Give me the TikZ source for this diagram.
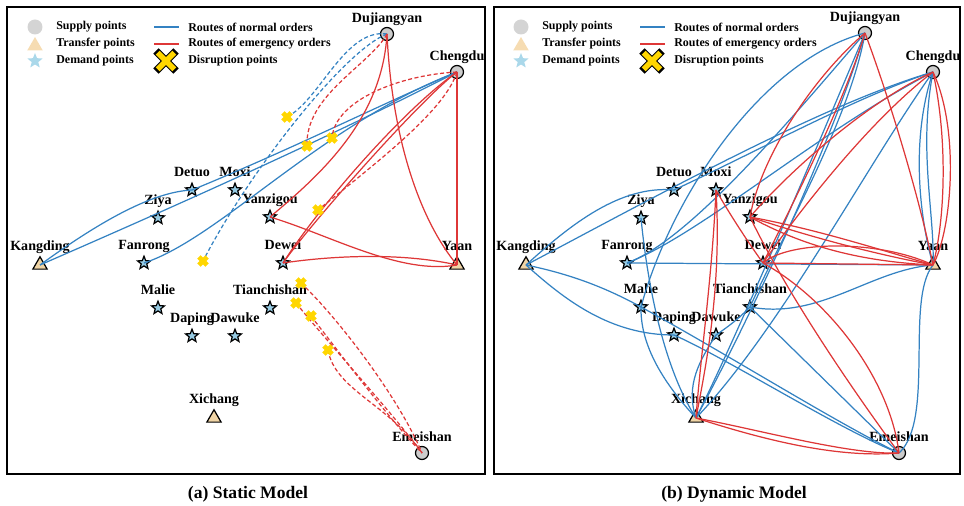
\documentclass[tikz,border=0pt]{standalone}
\usepackage{fontspec}
\setmainfont{Liberation Serif}
\usetikzlibrary{shapes.geometric,shapes.misc}

\definecolor{routeblue}{RGB}{52,130,194}
\definecolor{routered}{RGB}{222,55,55}
\definecolor{supplygray}{RGB}{204,204,204}
\definecolor{transfertan}{RGB}{240,212,165}
\definecolor{demandblue}{RGB}{150,202,226}
\definecolor{keygray}{RGB}{212,212,212}
\definecolor{keytan}{RGB}{246,220,178}
\definecolor{keyblue}{RGB}{170,216,234}
\definecolor{disruptyellow}{RGB}{255,214,0}

\tikzset{
  supply/.style={circle,draw=black,fill=supplygray,line width=0.7pt,minimum size=0.26cm,inner sep=0},
  transfer/.style={regular polygon,regular polygon sides=3,draw=black,fill=transfertan,line width=0.7pt,minimum size=0.33cm,inner sep=0},
  demand/.style={star,star points=5,star point ratio=2.3,draw=black,fill=demandblue,line width=0.7pt,minimum size=0.27cm,inner sep=0},
  disrupt/.style={cross out,draw=disruptyellow,line width=2.7pt,minimum size=0.07cm,inner sep=0},
  placename/.style={font=\bfseries\fontsize{8}{9}\selectfont,inner sep=0,text depth=0pt,label distance=2.5pt},
  place/.style={label={[placename]90:#1}},
  normal/.style={routeblue,line width=0.7pt},
  emergency/.style={routered,line width=0.7pt},
  cut/.style={dash pattern=on 2.3pt off 1.4pt},
  keytext/.style={font=\bfseries\fontsize{6.8}{7.5}\selectfont,anchor=west,inner sep=0},
}

\begin{document}
\begin{tikzpicture}[x=0.02cm,y=-0.02cm]
\useasboundingbox (0,0) rectangle (964,506);

% frames and captions
\draw[line width=0.9pt] (7,7) rectangle (485,474);
\draw[line width=0.9pt] (494,7) rectangle (960,474);
\node[font=\bfseries\fontsize{10}{12}\selectfont] (capa) at (248,494) {(a) Static Model};
\node[font=\bfseries\fontsize{10}{12}\selectfont] (capb) at (734,494) {(b) Dynamic Model};

% legend, once per panel
\foreach \dx in {0,486} {
  \begin{scope}[shift={(\dx,0)}]
    \node[circle,fill=keygray,minimum size=0.3cm,inner sep=0] at (35,27) {};
    \node[regular polygon,regular polygon sides=3,fill=keytan,minimum size=0.36cm,inner sep=0] at (35,46) {};
    \node[star,star points=5,star point ratio=2.3,fill=keyblue,minimum size=0.32cm,inner sep=0] at (35,61) {};
    \node[keytext] at (56,27) {Supply points};
    \node[keytext] at (56,44) {Transfer points};
    \node[keytext] at (56,61) {Demand points};
    \draw[routeblue,line width=1.2pt] (154,27) -- (179,27);
    \draw[routered,line width=1.2pt] (154,44) -- (179,44);
    \node[cross out,draw=black,line width=4.3pt,minimum size=0.25cm,inner sep=0] at (166,61) {};
    \node[cross out,draw=disruptyellow,line width=3.2pt,minimum size=0.22cm,inner sep=0] at (166,61) {};
    \node[keytext] at (188,27) {Routes of normal orders};
    \node[keytext] at (188,44) {Routes of emergency orders};
    \node[keytext] at (188,61) {Disruption points};
  \end{scope}
}

% (a) static model: places
\node[supply,place=Dujiangyan] (dja) at (387,34) {};
\node[supply,place=Chengdu] (cda) at (457,72) {};
\node[transfer,place=Kangding] (kda) at (40,265) {};
\node[demand,place=Fanrong] (fra) at (144,263) {};
\node[demand,place=Dewei] (dwa) at (283,263) {};
\node[transfer,place=Yaan] (yaa) at (457,265) {};
\node[demand,place=Detuo] (dta) at (192,190) {};
\node[demand,place=Moxi] (mxa) at (235,190) {};
\node[demand,place=Ziya] (zya) at (158,218) {};
\node[demand,place=Yanzigou] (yza) at (270,217) {};
\node[demand,place=Malie] (mla) at (158,308) {};
\node[demand,place=Tianchishan] (tca) at (270,308) {};
\node[demand,place=Daping] (dpa) at (192,336) {};
\node[demand,place=Dawuke] (dka) at (235,336) {};
\node[transfer,place=Xichang] (xca) at (214,418) {};
\node[supply,place=Emeishan] (ema) at (422,453) {};

% disruption spots, marked after the routes
\coordinate (x1) at (287,117);
\coordinate (x2) at (307,146);
\coordinate (x3) at (332,138);
\coordinate (x4) at (318,210);
\coordinate (x5) at (203,261);
\coordinate (x6) at (301,283);
\coordinate (x7) at (296,303);
\coordinate (x8) at (311,316);
\coordinate (x9) at (328,350);

% normal routes (a)
\draw[normal] (kda.center) .. controls (95,225) and (150,192) .. (dta.center);
\draw[normal] (dta.center) .. controls (290,150) and (390,100) .. (cda.center);
\draw[normal] (kda.center) .. controls (180,204) and (330,137) .. (cda.center);
\draw[normal] (fra.center) .. controls (220,238) and (320,125) .. (cda.center);
\draw[normal,cut] (dja.center) .. controls (345,28) and (320,100) .. (x1);
\draw[normal,cut] (dja.center) .. controls (345,50) and (250,170) .. (x5);

% emergency routes (a)
\draw[emergency] (dja.center) .. controls (382,120) and (320,175) .. (yza.center);
\draw[emergency] (dja.center) .. controls (392,140) and (420,220) .. (yaa.center);
\draw[emergency] (cda.center) .. controls (405,108) and (320,205) .. (dwa.center);
\draw[emergency] (cda.center) .. controls (420,100) and (312,222) .. (dwa.center);
\draw[emergency] (cda.center) -- (yaa.center);
\draw[emergency] (yza.center) .. controls (330,235) and (400,275) .. (yaa.center);
\draw[emergency] (dwa.center) .. controls (330,256) and (400,252) .. (yaa.center);
\draw[emergency,cut] (dja.center) .. controls (370,65) and (305,95) .. (x2);
\draw[emergency,cut] (cda.center) .. controls (400,75) and (335,100) .. (x3);
\draw[emergency,cut] (cda.center) .. controls (445,110) and (380,160) .. (x4);
\draw[emergency,cut] (x6) .. controls (340,320) and (400,400) .. (ema.center);
\draw[emergency,cut] (x7) .. controls (330,345) and (390,410) .. (ema.center);
\draw[emergency,cut] (x8) .. controls (345,360) and (390,420) .. (ema.center);
\draw[emergency,cut] (x9) .. controls (335,390) and (390,405) .. (ema.center);

\foreach \spot in {x1,x2,x3,x4,x5,x6,x7,x8,x9}
  \node[disrupt] at (\spot) {};

% (b) dynamic model: places
\node[supply,place=Dujiangyan] (djb) at (865,33) {};
\node[supply,place=Chengdu] (cdb) at (933,72) {};
\node[transfer,place=Kangding] (kdb) at (526,265) {};
\node[demand,place=Fanrong] (frb) at (627,263) {};
\node[demand,place=Dewei] (dwb) at (763,263) {};
\node[transfer,place=Yaan] (yab) at (933,265) {};
\node[demand,place=Detuo] (dtb) at (674,190) {};
\node[demand,place=Moxi] (mxb) at (716,190) {};
\node[demand,place=Ziya] (zyb) at (641,218) {};
\node[demand,place=Yanzigou] (yzb) at (750,217) {};
\node[demand,place=Malie] (mlb) at (641,307) {};
\node[demand,place=Tianchishan] (tcb) at (750,307) {};
\node[demand,place=Daping] (dpb) at (674,335) {};
\node[demand,place=Dawuke] (dkb) at (716,335) {};
\node[transfer,place=Xichang] (xcb) at (696,418) {};
\node[supply,place=Emeishan] (emb) at (899,453) {};

% normal routes (b)
\draw[normal] (kdb.center) .. controls (570,225) and (620,185) .. (dtb.center);
\draw[normal] (dtb.center) .. controls (760,150) and (860,95) .. (cdb.center);
\draw[normal] (kdb.center) .. controls (640,205) and (820,105) .. (cdb.center);
\draw[normal] (zyb.center) .. controls (648,290) and (665,370) .. (xcb.center);
\draw[normal] (frb.center) -- (yab.center);
\draw[normal] (frb.center) .. controls (700,235) and (820,130) .. (cdb.center);
\draw[normal] (frb.center) .. controls (690,240) and (790,120) .. (djb.center);
\draw[normal] (kdb.center) .. controls (575,275) and (610,290) .. (mlb.center) .. controls (720,350) and (840,425) .. (emb.center);
\draw[normal] (kdb.center) .. controls (565,300) and (610,335) .. (dpb.center) .. controls (730,360) and (840,430) .. (emb.center);
\draw[normal] (mlb.center) .. controls (670,200) and (760,60) .. (djb.center);
\draw[normal] (mlb.center) .. controls (640,350) and (670,390) .. (xcb.center);
\draw[normal] (dkb.center) .. controls (700,360) and (685,385) .. (xcb.center);
\draw[normal] (dkb.center) .. controls (735,322) and (742,315) .. (tcb.center);
\draw[normal] (xcb.center) .. controls (740,330) and (820,140) .. (djb.center);
\draw[normal] (xcb.center) .. controls (760,300) and (840,120) .. (djb.center);
\draw[normal] (xcb.center) .. controls (780,330) and (870,160) .. (cdb.center);
\draw[normal] (djb.center) .. controls (850,120) and (780,240) .. (tcb.center);
\draw[normal] (tcb.center) .. controls (820,320) and (870,270) .. (yab.center);
\draw[normal] (tcb.center) -- (emb.center);
\draw[normal] (yab.center) .. controls (905,300) and (935,420) .. (emb.center);
\draw[normal] (cdb.center) .. controls (910,140) and (920,220) .. (yab.center);
\draw[normal] (cdb.center) .. controls (918,150) and (935,215) .. (yab.center);

% emergency routes (b)
\draw[emergency] (djb.center) .. controls (810,80) and (760,160) .. (yzb.center);
\draw[emergency] (djb.center) .. controls (845,100) and (795,200) .. (dwb.center);
\draw[emergency] (djb.center) .. controls (890,100) and (920,200) .. (yab.center);
\draw[emergency] (cdb.center) .. controls (870,100) and (790,170) .. (yzb.center);
\draw[emergency] (cdb.center) .. controls (870,120) and (800,210) .. (dwb.center);
\draw[emergency] (cdb.center) .. controls (948,140) and (945,220) .. (yab.center);
\draw[emergency] (cdb.center) .. controls (960,130) and (952,230) .. (yab.center);
\draw[emergency] (mxb.center) .. controls (712,280) and (700,360) .. (xcb.center);
\draw[emergency] (mxb.center) .. controls (722,290) and (705,370) .. (xcb.center);
\draw[emergency] (mxb.center) .. controls (730,215) and (750,245) .. (dwb.center);
\draw[emergency] (yzb.center) .. controls (790,300) and (860,400) .. (emb.center);
\draw[emergency] (dwb.center) .. controls (830,300) and (890,380) .. (emb.center);
\draw[emergency] (yzb.center) .. controls (820,230) and (880,250) .. (yab.center);
\draw[emergency] (yzb.center) .. controls (820,240) and (880,255) .. (yab.center);
\draw[emergency] (yzb.center) .. controls (810,250) and (870,262) .. (yab.center);
\draw[emergency] (dwb.center) .. controls (790,240) and (880,240) .. (yab.center);
\draw[emergency] (dwb.center) -- (yab.center);
\draw[emergency] (xcb.center) .. controls (760,430) and (850,455) .. (emb.center);
\draw[emergency] (xcb.center) .. controls (770,442) and (840,458) .. (emb.center);
\end{tikzpicture}
\end{document}
